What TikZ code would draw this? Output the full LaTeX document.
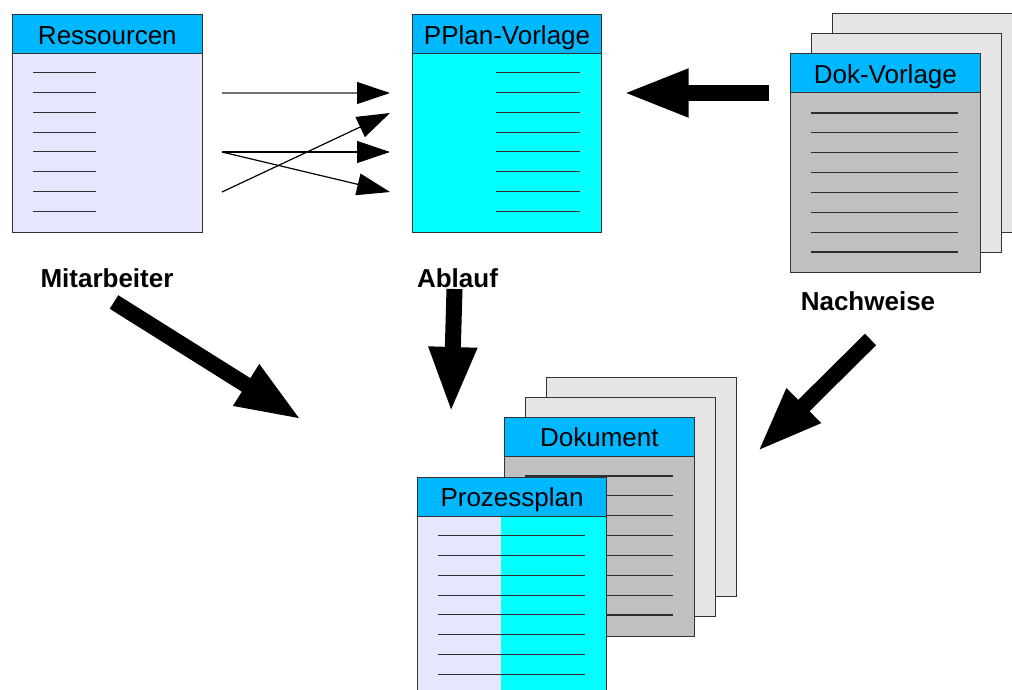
\documentclass[tikz,border=0pt]{standalone}
\usepackage{fontspec}
\setmainfont{Liberation Sans}
\usetikzlibrary{arrows.meta}

\definecolor{hdrblue}{HTML}{00B8FF}
\definecolor{lav}{HTML}{E6E6FF}
\definecolor{aqua}{HTML}{00FFFF}
\definecolor{docgray}{HTML}{C0C0C0}
\definecolor{sheetgray}{HTML}{E6E6E6}
\definecolor{edge}{HTML}{333333}
\definecolor{ruleline}{HTML}{2E2E2E}

\begin{document}
\begin{tikzpicture}[x=1pt,y=-1pt,
  page/.style={draw=edge, line width=1.2pt, inner sep=0pt, anchor=north west,
    minimum width=189.5pt, minimum height=#1},
  page/.default=218pt,
  hdr/.style={draw=edge, line width=1.2pt, fill=hdrblue, inner sep=0pt, anchor=north west,
    minimum width=189.5pt, text height=29.5pt, text depth=9.5pt,
    font=\fontsize{26}{30}\selectfont},
  lbl/.style={anchor=base, inner sep=0pt, font=\bfseries\fontsize{26}{30}\selectfont},
  rule/.style={draw=ruleline, line width=1.1pt},
  thin/.style={line width=1.2pt, -{Triangle[length=33pt,width=22pt,color=black]}},
  bigarrow/.style={line width=16pt, -{Triangle[length=66pt,width=44pt]}}
]
\useasboundingbox (0,0) rectangle (1012,690);

% ---- Ressourcen ----
\node[page, fill=lav] (res) at (12,14) {};
\node[hdr] (res-h) at (12,14) {Ressourcen};
\foreach \k in {0,...,7}
  \draw[rule] (33,72.7+19.8*\k) -- (96,72.7+19.8*\k);

% ---- PPlan-Vorlage ----
\node[page, fill=aqua] (pp) at (411.7,14) {};
\node[hdr] (pp-h) at (411.7,14) {PPlan-Vorlage};
\foreach \k in {0,...,7}
  \draw[rule] (496,72.7+19.8*\k) -- (580,72.7+19.8*\k);

% ---- Dok-Vorlage stack ----
\node[page=219pt, fill=sheetgray] (dv3) at (832,13) {};
\node[page=219pt, fill=sheetgray] (dv2) at (811,33) {};
\node[page=219pt, fill=docgray] (dv) at (790,53) {};
\node[hdr] (dv-h) at (790,53) {Dok-Vorlage};
\foreach \k in {0,...,7}
  \draw[rule] (811,113+19.85*\k) -- (958,113+19.85*\k);

% ---- Dokument stack ----
\node[page=219pt, fill=sheetgray] (dk3) at (546,376.7) {};
\node[page=219pt, fill=sheetgray] (dk2) at (525,396.7) {};
\node[page=219pt, fill=docgray] (dk) at (504,416.7) {};
\node[hdr] (dk-h) at (504,416.7) {Dokument};
\foreach \k in {0,...,7}
  \draw[rule] (525,476+19.85*\k) -- (672.7,476+19.85*\k);

% ---- Prozessplan: lavender left column, aqua right column ----
\node[page=219pt, fill=lav] (pz) at (416.7,476.7) {};
\fill[aqua] (501,516) rectangle (606.2,695.7);
\draw[edge, line width=1.2pt] (606.2,516) -- (606.2,695.7);
\node[hdr] (pz-h) at (416.7,476.7) {Prozessplan};
\foreach \k in {0,...,7}
  \draw[rule] (437.7,535.7+19.8*\k) -- (585,535.7+19.8*\k);

% ---- labels ----
\node[lbl] (mit) at (107,287) {Mitarbeiter};
\node[lbl] (abl) at (457.5,287) {Ablauf};
\node[lbl] (nach) at (868,310) {Nachweise};

% ---- thin arrows: Ressourcen -> PPlan-Vorlage ----
\coordinate (t1s) at (222,93);   \coordinate (t1e) at (390,93);
\coordinate (t2s) at (222,192);  \coordinate (t2e) at (390,113);
\coordinate (t3s) at (222,152);  \coordinate (t3e) at (390,152);
\coordinate (t4s) at (222,152);  \coordinate (t4e) at (390,192);
\draw[thin, draw=gray!90!black] (t1s) -- (t1e);
\draw[thin] (t2s) -- (t2e);
\draw[thin] (t3s) -- (t3e);
\draw[thin] (t4s) -- (t4e);

% ---- thick arrows ----
\coordinate (dv-s) at (769,93);     \coordinate (dv-e) at (622.7,93);
\coordinate (mit-s) at (114,302);   \coordinate (mit-e) at (302,420);
\coordinate (abl-s) at (454.5,289); \coordinate (abl-e) at (451,413);
\coordinate (na-s) at (870.5,339.5);\coordinate (na-e) at (757,452);
\draw[bigarrow] (dv-s) -- (dv-e);
\draw[bigarrow] (mit-s) -- (mit-e);
\draw[bigarrow] (abl-s) -- (abl-e);
\draw[bigarrow] (na-s) -- (na-e);
\end{tikzpicture}
\end{document}
